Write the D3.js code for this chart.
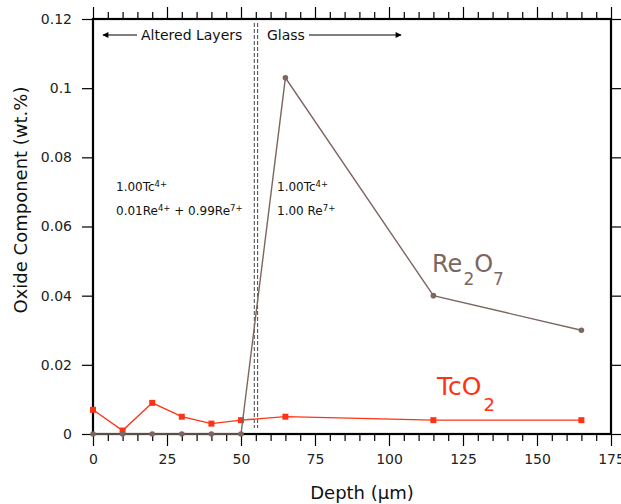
<!DOCTYPE html>
<html>
<head>
<meta charset="utf-8">
<script src="https://cdn.jsdelivr.net/npm/d3@7"></script>
<style>
  body { margin: 0; background: #fff; }
  text { font-family: "DejaVu Sans", "Liberation Sans", sans-serif; }
</style>
</head>
<body>
<div id="chart"></div>
<script>
const depth = [0, 10, 20, 30, 40, 50, 65, 115, 165];
const re2o7 = [0, 0, 0, 0, 0, 0, 0.103, 0.040, 0.030];
const tco2 = [0.007, 0.001, 0.009, 0.005, 0.003, 0.004, 0.005, 0.004, 0.004];
const boundaryLines = [54.5, 55.6];
const xTicks = [0, 25, 50, 75, 100, 125, 150, 175];
const yTicks = [0, 0.02, 0.04, 0.06, 0.08, 0.1, 0.12];

const W = 621, H = 504;
const margin = {top: 19, right: 10, bottom: 70, left: 93};
const w = W - margin.left - margin.right,
      h = H - margin.top - margin.bottom;

const reColor = '#7d6660', tcColor = '#ff3314';

const x = d3.scaleLinear().domain([0, 175]).range([0, w]),
      y = d3.scaleLinear().domain([0, 0.12]).range([h, 0]);

const svg = d3.select('#chart').append('svg')
  .attr('width', W).attr('height', H);
const g = svg.append('g')
  .attr('transform', `translate(${margin.left},${margin.top})`);

// minor ticks every 5 on top and bottom
const minor = d3.range(0, 176, 5).filter(v => v % 25 !== 0);
const styleAxis = (sel) => {
  sel.select('.domain').remove();
  sel.selectAll('line').attr('stroke', '#000').attr('stroke-width', 1.2);
  sel.selectAll('text').attr('font-size', 14).attr('fill', '#222');
};

g.append('g').attr('transform', `translate(0,${h})`)
  .call(d3.axisBottom(x).tickValues(xTicks).tickSize(12).tickPadding(8).tickFormat(d3.format('d')))
  .call(styleAxis);
g.append('g').attr('transform', `translate(0,${h})`)
  .call(d3.axisBottom(x).tickValues(minor).tickSize(7).tickFormat(''))
  .call(styleAxis);
g.append('g')
  .call(d3.axisTop(x).tickValues(xTicks).tickSize(12).tickFormat(''))
  .call(styleAxis);
g.append('g')
  .call(d3.axisTop(x).tickValues(minor).tickSize(7).tickFormat(''))
  .call(styleAxis);
g.append('g')
  .call(d3.axisLeft(y).tickValues(yTicks).tickSize(11).tickPadding(10).tickFormat(d => d === 0 ? '0' : String(+d.toFixed(2))))
  .call(styleAxis);
g.append('g').attr('transform', `translate(${w},0)`)
  .call(d3.axisRight(y).tickValues(yTicks).tickSize(11).tickFormat(''))
  .call(styleAxis);

// frame
g.append('rect').attr('width', w).attr('height', h)
  .attr('fill', 'none').attr('stroke', '#000').attr('stroke-width', 2.2);

// boundary dashed lines
g.selectAll('.bound').data(boundaryLines).join('line')
  .attr('x1', d => x(d)).attr('x2', d => x(d))
  .attr('y1', 4).attr('y2', h - 6)
  .attr('stroke', '#555').attr('stroke-width', 1.1)
  .attr('stroke-dasharray', '4,2');

// series
const pts = (vals) => depth.map((d, i) => [d, vals[i]]);
const line = d3.line().x(d => x(d[0])).y(d => y(d[1]));

g.append('path').datum(pts(tco2)).attr('d', line)
  .attr('fill', 'none').attr('stroke', tcColor).attr('stroke-width', 1.3);
g.selectAll('.tc').data(pts(tco2)).join('rect')
  .attr('x', d => x(d[0]) - 3).attr('y', d => y(d[1]) - 3)
  .attr('width', 6).attr('height', 6).attr('fill', tcColor);

g.append('path').datum(pts(re2o7)).attr('d', line)
  .attr('fill', 'none').attr('stroke', reColor).attr('stroke-width', 1.4);
g.selectAll('.re').data(pts(re2o7)).join('circle')
  .attr('cx', d => x(d[0])).attr('cy', d => y(d[1]))
  .attr('r', 2.8).attr('fill', reColor);

// series labels
const re = svg.append('text').attr('x', 432).attr('y', 272)
  .attr('font-size', 24).attr('fill', reColor);
re.append('tspan').text('Re');
re.append('tspan').text('2').attr('dx', 1).attr('dy', 13).attr('font-size', 17);
re.append('tspan').text('O').attr('dx', 0).attr('dy', -13);
re.append('tspan').text('7').attr('dx', 0).attr('dy', 13).attr('font-size', 17);

const tc = svg.append('text').attr('x', 437).attr('y', 395)
  .attr('font-size', 25).attr('fill', tcColor);
tc.append('tspan').text('TcO');
tc.append('tspan').text('2').attr('dx', 2).attr('dy', 16).attr('font-size', 18);

// region labels and arrows
svg.append('defs').append('marker').attr('id', 'arr')
  .attr('viewBox', '0 0 10 10').attr('refX', 9).attr('refY', 5)
  .attr('markerWidth', 12).attr('markerHeight', 6).attr('orient', 'auto-start-reverse')
  .attr('markerUnits', 'userSpaceOnUse')
  .append('path').attr('d', 'M0,0L10,5L0,10Z').attr('fill', '#000');

const arrowY = 35;
svg.append('line').attr('x1', 103).attr('x2', 137).attr('y1', arrowY).attr('y2', arrowY)
  .attr('stroke', '#000').attr('stroke-width', 1.2).attr('marker-start', 'url(#arr)');
svg.append('text').attr('x', 141).attr('y', arrowY + 5).attr('font-size', 14).attr('fill', '#111')
  .text('Altered Layers');
svg.append('text').attr('x', 267).attr('y', arrowY + 5).attr('font-size', 14).attr('fill', '#111')
  .text('Glass');
svg.append('line').attr('x1', 309).attr('x2', 401).attr('y1', arrowY).attr('y2', arrowY)
  .attr('stroke', '#000').attr('stroke-width', 1.2).attr('marker-end', 'url(#arr)');

// valence annotations
const ann = (xp, yp, parts) => {
  const t = svg.append('text').attr('x', xp).attr('y', yp)
    .attr('font-size', 12).attr('fill', '#111');
  parts.forEach(([s, sup]) => {
    t.append('tspan').text(s).attr('baseline-shift', sup ? '45%' : null)
      .attr('font-size', sup ? 8.5 : null);
  });
};
ann(116, 191, [['1.00Tc'], ['4+', true]]);
ann(116, 215, [['0.01Re'], ['4+', true], [' + 0.99Re'], ['7+', true]]);
ann(277, 191, [['1.00Tc'], ['4+', true]]);
ann(277, 215, [['1.00 Re'], ['7+', true]]);

// axis titles
svg.append('text').attr('x', 362).attr('y', 499)
  .attr('text-anchor', 'middle').attr('font-size', 18).attr('fill', '#111')
  .text('Depth (μm)');
svg.append('text').attr('transform', 'translate(27,200) rotate(-90)')
  .attr('text-anchor', 'middle').attr('font-size', 18).attr('fill', '#111')
  .text('Oxide Component (wt.%)');
</script>
</body>
</html>
